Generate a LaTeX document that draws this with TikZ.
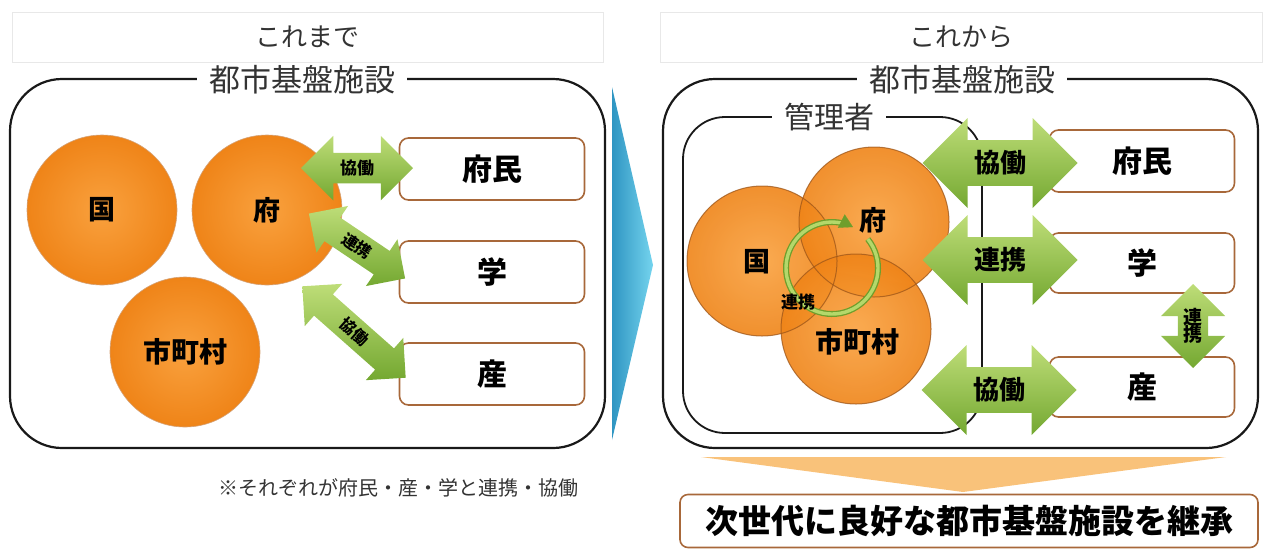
\documentclass[tikz,border=0pt]{standalone}
\usepackage{fontspec}
\newfontfamily\jp{Noto Sans CJK JP}
\usetikzlibrary{shapes.arrows,arrows.meta}
\definecolor{ballin}{HTML}{F9A13E}
\definecolor{ballout}{HTML}{EF8418}
\definecolor{balledge}{HTML}{B8641E}
\definecolor{boxedge}{HTML}{A8683A}
\definecolor{gtop}{HTML}{BEDD78}
\definecolor{gbot}{HTML}{74A831}
\definecolor{ringdark}{HTML}{6E9E2C}
\definecolor{ringlight}{HTML}{B4D86A}
\definecolor{blueA}{HTML}{2F95C2}
\definecolor{blueB}{HTML}{74D4EE}
\definecolor{orA}{HTML}{F0861A}
\definecolor{orB}{HTML}{F9C27A}
\definecolor{txt}{HTML}{333333}
\newcommand{\fs}[1]{\jp\fontsize{#1}{#1}\selectfont}
\begin{document}
\begin{tikzpicture}[x=1pt,y=-1pt,
  titlebox/.style={draw=black!9, fill=white, minimum height=50pt, inner sep=0pt},
  frame/.style={draw=black!90, line width=2.2pt, rounded corners=52pt, inner sep=0pt},
  innerframe/.style={draw=black!90, line width=1.8pt, rounded corners=42pt, inner sep=0pt},
  headtext/.style={fill=white, inner xsep=12pt, inner ysep=1pt, text=txt},
  ball/.style={circle, minimum size=150pt, inner sep=0pt, inner color=ballin, outer color=ballout},
  balltext/.style={font=\fs{27}\bfseries, text=black},
  garrow/.style={double arrow, double arrow tip angle=90, inner xsep=0pt, top color=gtop, bottom color=gbot, draw=none},
  glabel/.style={font=\fs{#1}\bfseries, text=black, inner sep=0pt},
  tbox/.style={draw=boxedge, line width=1.6pt, rounded corners=9pt, fill=white, minimum width=185pt, minimum height=62pt, inner sep=0pt, font=\fs{30}\bfseries}
]
\useasboundingbox (0,0) rectangle (1265,550);

% ---------- left panel ----------
\node[titlebox, minimum width=591pt] (tleft) at (307.5,37) {};
\node[font=\fs{26}, text=txt] (kore1) at (tleft) {これまで};
\node[frame, minimum width=595pt, minimum height=369pt] (fleft) at (307.5,263.5) {};
\node[headtext, font=\fs{31}] (hleft) at (302,80) {都市基盤施設};

\node[ball, draw=balledge!60, line width=0.6pt] (kuniL) at (102,210) {};
\node[balltext] at (kuniL) {国};
\node[ball, draw=balledge!60, line width=0.6pt] (fuL) at (267,210) {};
\node[balltext] at (fuL) {府};
\node[ball, draw=balledge!60, line width=0.6pt] (shiL) at (185,352) {};
\node[balltext, font=\fs{28}\bfseries] at (shiL) {市町村};

\node[tbox] (fuminL) at (492,169) {府民};
\node[tbox] (gakuL) at (492,272) {学};
\node[tbox] (sanL) at (492,374) {産};

\node[garrow, minimum height=112pt, minimum width=64pt, double arrow head extend=17pt,
      font=\fs{17}\bfseries, text height=13.6pt, text depth=0.9pt, inner ysep=7.8pt] (a1) at (357,168) {協働};
\node[garrow, rotate=-34, minimum height=116pt, minimum width=56pt, double arrow head extend=14pt,
      font=\fs{16}\bfseries, text height=12.8pt, text depth=0.8pt, inner ysep=7.2pt] (a2) at (357,246) {連携};
\node[garrow, rotate=-41.5, minimum height=138pt, minimum width=56pt, double arrow head extend=14pt,
      font=\fs{16}\bfseries, text height=12.8pt, text depth=0.8pt, inner ysep=7.2pt] (a3) at (354,332) {協働};

\node[font=\fs{20}, text=txt] (note) at (398,488) {※それぞれが府民・産・学と連携・協働};

% ---------- middle chevron ----------
\shade[left color=blueA, right color=blueB] (612,87) -- (653,265) -- (612,440) -- cycle;

% ---------- right panel ----------
\node[titlebox, minimum width=602pt] (tright) at (961,37) {};
\node[font=\fs{26}, text=txt] (kore2) at (tright) {これから};
\node[frame, minimum width=595pt, minimum height=369pt] (fright) at (960.5,263.5) {};
\node[headtext, font=\fs{31}] (hright) at (962,80) {都市基盤施設};
\node[innerframe, minimum width=299pt, minimum height=316pt] (kanri) at (832.5,275) {};
\node[headtext, font=\fs{30}] (hkanri) at (829,117) {管理者};

\node[ball, fill opacity=0.9] (kuniR) at (762,261) {};
\node[ball, fill opacity=0.9] (fuR) at (874,222) {};
\node[ball, fill opacity=0.9] (shiR) at (856,329) {};
\foreach \b in {kuniR,fuR,shiR}
  \draw[balledge!85!black, line width=1pt, opacity=0.75] (\b) circle[radius=75];
\node[balltext] at (757,262) {国};
\node[balltext] at (873,220) {府};
\node[balltext, font=\fs{28}\bfseries] at (857,342) {市町村};

% circular arrow
\coordinate (ringc) at (832,268);
\draw[ringdark, line width=6pt] ([shift={(-39:46)}]ringc) arc[start angle=-39, end angle=283, radius=46];
\draw[ringlight, line width=3.4pt] ([shift={(-39:46)}]ringc) arc[start angle=-39, end angle=283, radius=46];
\draw[ringlight, line width=0.1pt, -{Triangle[length=13pt,width=15pt]}, draw=ringdark, fill=ringlight] ([shift={(281:46)}]ringc) arc[start angle=281, end angle=297, radius=46];
\node[glabel=17] (renkeiR) at (798,302) {連携};

\node[tbox] (fuminR) at (1142,161) {府民};
\node[tbox, minimum height=60pt] (gakuR) at (1142,263) {学};
\node[tbox, minimum height=60pt] (sanR) at (1142,387) {産};

\tikzset{bigarrow/.style={garrow, minimum height=155pt, minimum width=90pt, double arrow head extend=22pt,
      font=\fs{26}\bfseries, text height=20.8pt, text depth=1.3pt, inner ysep=11.5pt}}
\node[bigarrow] (b1) at (1000,163) {協働};
\node[bigarrow] (b2) at (1000,260) {連携};
\node[bigarrow] (b3) at (999,390) {協働};

\node[garrow, rotate=90, minimum height=84pt, minimum width=64pt, double arrow head extend=17pt,
      text height=0pt, text depth=0pt, inner ysep=15pt] (b4) at (1193,326) {};
\node[glabel=19, align=center] at (b4) {連\\[-2pt]携};

% ---------- bottom ----------
\shade[left color=orB, middle color=orA, right color=orB] (701,457) -- (1226,457) -- (963,492) -- cycle;
\node[draw=boxedge, line width=1.6pt, rounded corners=8pt, fill=white, minimum width=578pt, minimum height=53pt, inner sep=0pt, font=\fs{33}\bfseries] (result) at (969,521) {次世代に良好な都市基盤施設を継承};
\end{tikzpicture}
\end{document}
